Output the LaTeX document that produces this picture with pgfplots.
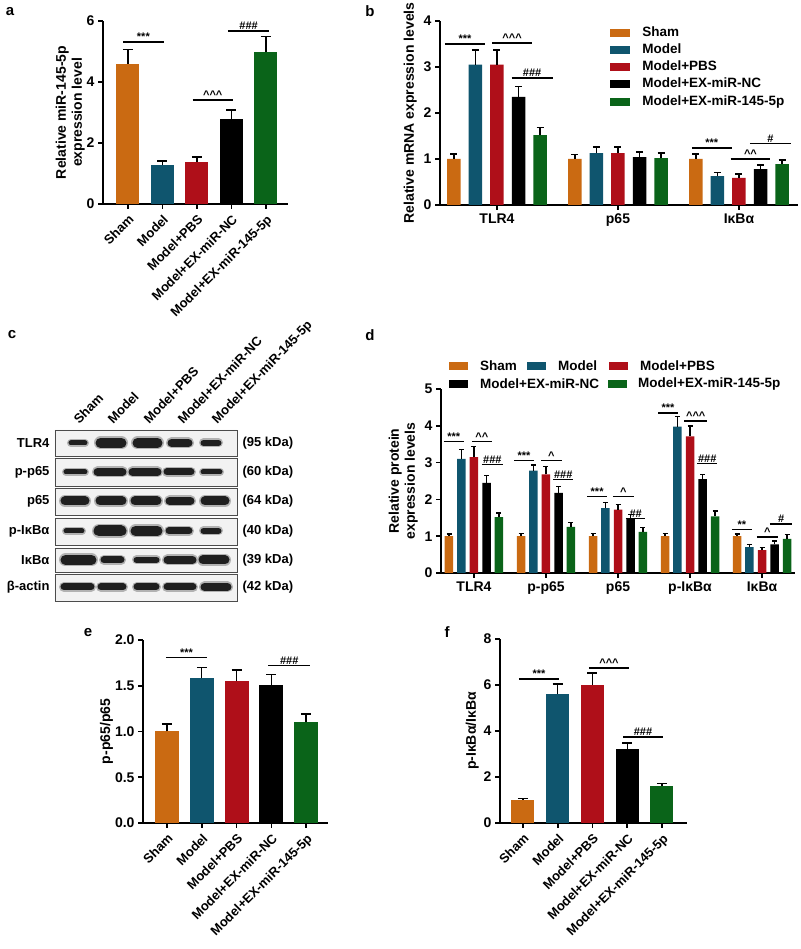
\documentclass[border=0pt]{standalone}
\usepackage{fontspec}
\setmainfont{Liberation Sans}
\usepackage{pgfplots}
\pgfplotsset{compat=1.18}
\definecolor{csham}{RGB}{202,106,18}
\definecolor{cmodel}{RGB}{15,85,110}
\definecolor{cpbs}{RGB}{175,15,25}
\definecolor{cnc}{RGB}{0,0,0}
\definecolor{cgreen}{RGB}{10,100,25}
\newcommand{\tickfont}{\fontsize{14}{16}\selectfont\bfseries}
\newcommand{\catfont}{\fontsize{13}{15}\selectfont\bfseries}
\newcommand{\sigfont}{\fontsize{11}{11}\selectfont\bfseries}
\newcommand{\car}{\textasciicircum}
\newcommand{\sig}[4]{\draw[line width=1.2pt] (axis cs:#1,#3) -- (axis cs:#2,#3) node[midway, above=-1pt, inner sep=1.5pt, font=\sigfont]{#4};}
\newcommand{\band}[4]{%
  \addplot[line cap=round, line width=#4pt, black!30, forget plot] coordinates {(#1,#3) (#2,#3)};
  \addplot[line cap=round, line width={#4pt-3pt}, black!88, forget plot] coordinates {(#1,#3) (#2,#3)};}
\newcommand{\blotbox}[2]{\addplot[draw=black!70, line width=0.8pt, fill=black!5, forget plot] coordinates {(55,#1) (237,#1) (237,#2) (55,#2) (55,#1)};}
\pgfplotsset{
  prism/.style={
    anchor=south west, scale only axis, clip=false,
    axis x line*=bottom, axis y line*=left,
    axis line style={line width=1.6pt, black},
    tick style={line width=1.6pt, black},
    tick align=outside, major tick length=5pt,
    ymin=0,
    tick label style={font=\tickfont},
    ylabel style={font=\fontsize{14}{16}\selectfont\bfseries, align=center},
    /pgf/number format/assume math mode=true,
    error bars/y dir=plus, error bars/y explicit,
    error bars/error bar style={line width=1.4pt, black},
  },
  bar/.style={ybar, draw=none, fill=#1},
  cap/.style={error bars/error mark options={rotate=90, line width=1.4pt, black, mark size=#1}},
}
\begin{document}
\begin{tikzpicture}
\useasboundingbox (0pt,0pt) rectangle (800pt,949pt);
% panel letters
\node[font=\fontsize{15}{15}\selectfont\bfseries] at (10pt,937pt) {a};
\node[font=\fontsize{15}{15}\selectfont\bfseries] at (370pt,938pt) {b};
\node[font=\fontsize{15}{15}\selectfont\bfseries] at (12pt,614pt) {c};
\node[font=\fontsize{15}{15}\selectfont\bfseries] at (370pt,614pt) {d};
\node[font=\fontsize{15}{15}\selectfont\bfseries] at (88pt,316pt) {e};
\node[font=\fontsize{15}{15}\selectfont\bfseries] at (447pt,317pt) {f};

% ---------------- panel a
\begin{axis}[prism, at={(103pt,745pt)}, width=185pt, height=183pt,
  xmin=-0.72, xmax=4.64, ymax=6, ytick={0,2,4,6}, xtick={0,1,2,3,4},
  xticklabels={Sham,Model,Model+PBS,Model+EX-miR-NC,Model+EX-miR-145-5p},
  xticklabel style={rotate=45, anchor=north east, font=\catfont},
  ylabel={Relative miR-145-5p\\expression level}, ylabel style={yshift=-5pt},
  bar width=23pt, cap=5pt]
\addplot[bar=csham] table[x=x,y=y,y error=e,row sep=\\]{x y e\\ 0 4.59 0.48\\};
\addplot[bar=cmodel] table[x=x,y=y,y error=e,row sep=\\]{x y e\\ 1 1.27 0.14\\};
\addplot[bar=cpbs] table[x=x,y=y,y error=e,row sep=\\]{x y e\\ 2 1.38 0.16\\};
\addplot[bar=cnc] table[x=x,y=y,y error=e,row sep=\\]{x y e\\ 3 2.79 0.29\\};
\addplot[bar=cgreen] table[x=x,y=y,y error=e,row sep=\\]{x y e\\ 4 4.98 0.52\\};
\sig{-0.14}{1.04}{5.31}{***}
\sig{1.88}{3.04}{3.41}{\car\car\car}
\sig{2.9}{4.1}{5.67}{\#\#\#}
\end{axis}

% ---------------- panel b
\begin{axis}[prism, at={(440pt,744pt)}, width=358pt, height=184pt,
  xmin=-0.471, xmax=2.488, ymax=4, ytick={0,1,2,3,4}, xtick={0,1,2},
  xticklabels={TLR4,p65,IκBα},
  ylabel={Relative mRNA expression levels},
  bar width=13.5pt, cap=3.5pt,
  legend style={at={(axis description cs:0.475,0.972)}, anchor=north west, draw=none, fill=none,
    inner sep=0pt, row sep=4.2pt, font=\fontsize{13.5}{15}\selectfont\bfseries,
    nodes={inner sep=0pt, text height=10pt, text depth=3pt},
    /tikz/every odd column/.append style={column sep=12pt}},
  legend cell align=left,
  legend image code/.code={\fill[#1] (0pt,-4pt) rectangle (20pt,4pt);}]
\addplot[bar=csham] table[x=x,y=y,y error=e,row sep=\\]{x y e\\ -0.356 1.00 0.11\\ 0.644 1.00 0.10\\ 1.644 1.00 0.11\\};
\addlegendentry{Sham}
\addplot[bar=cmodel] table[x=x,y=y,y error=e,row sep=\\]{x y e\\ -0.178 3.05 0.32\\ 0.822 1.13 0.13\\ 1.822 0.63 0.08\\};
\addlegendentry{Model}
\addplot[bar=cpbs] table[x=x,y=y,y error=e,row sep=\\]{x y e\\ 0 3.05 0.32\\ 1 1.13 0.13\\ 2 0.59 0.08\\};
\addlegendentry{Model+PBS}
\addplot[bar=cnc] table[x=x,y=y,y error=e,row sep=\\]{x y e\\ 0.178 2.35 0.22\\ 1.178 1.04 0.11\\ 2.178 0.78 0.09\\};
\addlegendentry{Model+EX-miR-NC}
\addplot[bar=cgreen] table[x=x,y=y,y error=e,row sep=\\]{x y e\\ 0.356 1.52 0.16\\ 1.356 1.02 0.11\\ 2.356 0.89 0.09\\};
\addlegendentry{Model+EX-miR-145-5p}
\sig{-0.43}{-0.10}{3.50}{***}
\sig{-0.04}{0.29}{3.52}{\car\car\car}
\sig{0.12}{0.46}{2.76}{\#\#\#}
\sig{1.61}{1.94}{1.24}{***}
\sig{1.93}{2.26}{1.00}{\car\car}
\sig{2.09}{2.43}{1.33}{\#}
\end{axis}

% ---------------- panel c (blot)
\begin{axis}[at={(55pt,348pt)}, anchor=south west, scale only axis, width=182pt, height=171pt,
  xmin=55, xmax=237, ymin=430, ymax=601, y dir=reverse, hide axis, clip=false]
\blotbox{430}{456}
\blotbox{458}{486}
\blotbox{488}{515}
\blotbox{518}{545}
\blotbox{548}{572}
\blotbox{574}{601}
% TLR4
\band{71}{85}{443}{8}
\band{100.5}{121.5}{443}{13}
\band{137.5}{157.5}{443}{13}
\band{171.5}{188.5}{443}{11}
\band{203.5}{218.5}{443}{9}
% p-p65
\band{66}{85}{472}{8}
\band{97.5}{122.5}{472}{11}
\band{132.5}{157.5}{472}{11}
\band{167}{191}{472}{10}
\band{203}{220}{472}{8}
% p65
\band{65}{85}{501}{12}
\band{100}{122}{501}{12}
\band{135}{157}{501}{12}
\band{169.5}{190.5}{501}{11}
\band{205}{225}{501}{12}
% p-IkBa
\band{66}{82}{531}{8}
\band{99}{121}{531}{14}
\band{135.5}{157.5}{531}{13}
\band{169}{189}{531}{10}
\band{203.5}{218.5}{531}{9}
% IkBa
\band{65.5}{91.5}{560}{13}
\band{104}{121}{560}{10}
\band{136.5}{156.5}{560}{9}
\band{167.5}{192.5}{560}{11}
\band{203}{225}{560}{12}
% beta-actin
\band{64}{91}{587}{10}
\band{101}{123}{587}{10}
\band{137}{156}{587}{10}
\band{167}{193}{587}{10}
\band{204.5}{227.5}{587}{11}
\node[anchor=east, font=\catfont] at (axis cs:53,443) {TLR4};
\node[anchor=east, font=\catfont] at (axis cs:53,472) {p-p65};
\node[anchor=east, font=\catfont] at (axis cs:53,501) {p65};
\node[anchor=east, font=\catfont] at (axis cs:53,531) {p-IκBα};
\node[anchor=east, font=\catfont] at (axis cs:53,560) {IκBα};
\node[anchor=east, font=\catfont] at (axis cs:53,587) {β-actin};
\node[anchor=west, font=\catfont] at (axis cs:239,443) {(95 kDa)};
\node[anchor=west, font=\catfont] at (axis cs:239,472) {(60 kDa)};
\node[anchor=west, font=\catfont] at (axis cs:239,501) {(64 kDa)};
\node[anchor=west, font=\catfont] at (axis cs:239,531) {(40 kDa)};
\node[anchor=west, font=\catfont] at (axis cs:239,560) {(39 kDa)};
\node[anchor=west, font=\catfont] at (axis cs:239,587) {(42 kDa)};
\node[rotate=46, anchor=base west, font=\catfont] at (axis cs:77,427) {Sham};
\node[rotate=46, anchor=base west, font=\catfont] at (axis cs:111,427) {Model};
\node[rotate=46, anchor=base west, font=\catfont] at (axis cs:147,427) {Model+PBS};
\node[rotate=46, anchor=base west, font=\catfont] at (axis cs:181,427) {Model+EX-miR-NC};
\node[rotate=46, anchor=base west, font=\catfont] at (axis cs:215,427) {Model+EX-miR-145-5p};
\end{axis}

% ---------------- panel d
\begin{axis}[prism, at={(441pt,376pt)}, width=354pt, height=184pt,
  xmin=-0.458, xmax=4.458, ymax=5, ytick={0,1,2,3,4,5}, xtick={0,1,2,3,4},
  xticklabels={TLR4,p-p65,p65,p-IκBα,IκBα},
  ylabel={Relative protein\\expression levels},
  bar width=8.5pt, cap=2.5pt]
\addplot[bar=csham] table[x=x,y=y,y error=e,row sep=\\]{x y e\\ -0.347 1.00 0.06\\ 0.653 1.00 0.08\\ 1.653 1.00 0.07\\ 2.653 1.00 0.08\\ 3.653 1.00 0.06\\};
\addplot[bar=cmodel] table[x=x,y=y,y error=e,row sep=\\]{x y e\\ -0.174 3.10 0.25\\ 0.826 2.78 0.16\\ 1.826 1.76 0.16\\ 2.826 3.98 0.27\\ 3.826 0.70 0.07\\};
\addplot[bar=cpbs] table[x=x,y=y,y error=e,row sep=\\]{x y e\\ 0 3.15 0.28\\ 1 2.68 0.22\\ 2 1.72 0.14\\ 3 3.71 0.28\\ 4 0.62 0.07\\};
\addplot[bar=cnc] table[x=x,y=y,y error=e,row sep=\\]{x y e\\ 0.174 2.45 0.20\\ 1.174 2.18 0.17\\ 2.174 1.48 0.11\\ 3.174 2.55 0.13\\ 4.174 0.78 0.09\\};
\addplot[bar=cgreen] table[x=x,y=y,y error=e,row sep=\\]{x y e\\ 0.347 1.52 0.11\\ 1.347 1.25 0.12\\ 2.347 1.12 0.12\\ 3.347 1.54 0.14\\ 4.347 0.93 0.11\\};
\sig{-0.42}{-0.14}{3.58}{***}
\sig{-0.03}{0.25}{3.58}{\car\car}
\sig{0.11}{0.40}{2.94}{\#\#\#}
\sig{0.56}{0.83}{3.06}{***}
\sig{0.93}{1.22}{3.06}{\car}
\sig{1.10}{1.38}{2.55}{\#\#\#}
\sig{1.57}{1.85}{2.07}{***}
\sig{1.93}{2.22}{2.07}{\car}
\sig{2.11}{2.38}{1.47}{\#\#}
\sig{2.56}{2.83}{4.35}{***}
\sig{2.92}{3.24}{4.13}{\car\car\car}
\sig{3.10}{3.38}{2.97}{\#\#\#}
\sig{3.58}{3.86}{1.18}{**}
\sig{3.93}{4.22}{0.98}{\car}
\sig{4.11}{4.42}{1.33}{\#}
\end{axis}
% legend d (two rows)
\begin{scope}[font=\fontsize{13.5}{15}\selectfont\bfseries]
\fill[csham] (449pt,579pt) rectangle (468pt,587pt);
\node[anchor=west, inner sep=0pt] at (480pt,583pt) {Sham};
\fill[cmodel] (527pt,579pt) rectangle (546pt,587pt);
\node[anchor=west, inner sep=0pt] at (558pt,583pt) {Model};
\fill[cpbs] (609pt,579pt) rectangle (628pt,587pt);
\node[anchor=west, inner sep=0pt] at (640pt,583pt) {Model+PBS};
\fill[cnc] (449pt,561pt) rectangle (468pt,569pt);
\node[anchor=west, inner sep=0pt] at (480pt,565pt) {Model+EX-miR-NC};
\fill[cgreen] (608pt,561pt) rectangle (627pt,569pt);
\node[anchor=west, inner sep=0pt] at (638pt,565pt) {Model+EX-miR-145-5p};
\end{scope}

% ---------------- panel e
\begin{axis}[prism, at={(143pt,126pt)}, width=185pt, height=183pt,
  xmin=-0.69, xmax=4.63, ymax=2, ytick={0,0.5,1,1.5,2}, xtick={0,1,2,3,4},
  yticklabel style={/pgf/number format/.cd, fixed, fixed zerofill, precision=1},
  xticklabels={Sham,Model,Model+PBS,Model+EX-miR-NC,Model+EX-miR-145-5p},
  xticklabel style={rotate=45, anchor=north east, font=\catfont},
  ylabel={p-p65/p65}, ylabel style={yshift=-5pt},
  bar width=24pt, cap=5pt]
\addplot[bar=csham] table[x=x,y=y,y error=e,row sep=\\]{x y e\\ 0 1.00 0.08\\};
\addplot[bar=cmodel] table[x=x,y=y,y error=e,row sep=\\]{x y e\\ 1 1.58 0.12\\};
\addplot[bar=cpbs] table[x=x,y=y,y error=e,row sep=\\]{x y e\\ 2 1.55 0.12\\};
\addplot[bar=cnc] table[x=x,y=y,y error=e,row sep=\\]{x y e\\ 3 1.51 0.11\\};
\addplot[bar=cgreen] table[x=x,y=y,y error=e,row sep=\\]{x y e\\ 4 1.10 0.09\\};
\sig{-0.03}{1.15}{1.81}{***}
\sig{2.91}{4.12}{1.72}{\#\#\#}
\end{axis}

% ---------------- panel f
\begin{axis}[prism, at={(500pt,126pt)}, width=187pt, height=184pt,
  xmin=-0.66, xmax=4.72, ymax=8, ytick={0,2,4,6,8}, xtick={0,1,2,3,4},
  xticklabels={Sham,Model,Model+PBS,Model+EX-miR-NC,Model+EX-miR-145-5p},
  xticklabel style={rotate=45, anchor=north east, font=\catfont},
  ylabel={p-IκBα/IκBα}, ylabel style={yshift=-2pt},
  bar width=23pt, cap=5pt]
\addplot[bar=csham] table[x=x,y=y,y error=e,row sep=\\]{x y e\\ 0 1.00 0.07\\};
\addplot[bar=cmodel] table[x=x,y=y,y error=e,row sep=\\]{x y e\\ 1 5.60 0.44\\};
\addplot[bar=cpbs] table[x=x,y=y,y error=e,row sep=\\]{x y e\\ 2 6.00 0.52\\};
\addplot[bar=cnc] table[x=x,y=y,y error=e,row sep=\\]{x y e\\ 3 3.22 0.26\\};
\addplot[bar=cgreen] table[x=x,y=y,y error=e,row sep=\\]{x y e\\ 4 1.61 0.11\\};
\sig{-0.12}{1.04}{6.26}{***}
\sig{1.90}{3.05}{6.74}{\car\car\car}
\sig{2.88}{4.03}{3.74}{\#\#\#}
\end{axis}
\end{tikzpicture}
\end{document}
